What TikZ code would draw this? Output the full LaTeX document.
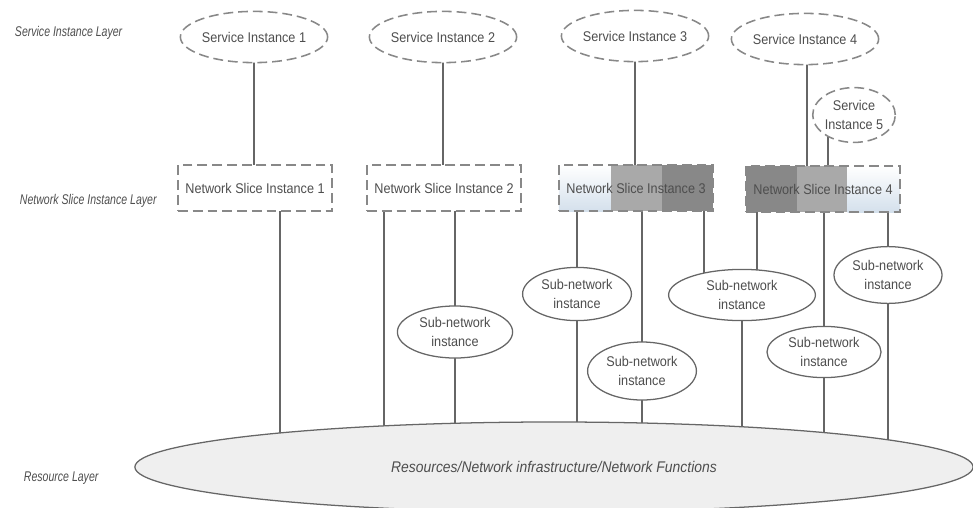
\documentclass[tikz,border=0pt]{standalone}
\usepackage{fontspec}
\setmainfont{Liberation Sans}[FakeStretch=0.9]
\newfontfamily\layerfont{Liberation Sans}[FakeStretch=0.75]
\usetikzlibrary{shapes,calc,backgrounds}
\definecolor{txt}{HTML}{4E4E4E}
\definecolor{ln}{HTML}{666666}
\definecolor{dsh}{HTML}{888888}
\definecolor{lgt}{HTML}{D4E0EC}
\definecolor{midg}{HTML}{A9A9A9}
\definecolor{drkg}{HTML}{888888}
\definecolor{resfill}{HTML}{EFEFEF}
\tikzstyle{si}=[ellipse,draw=dsh,line width=1.1pt,dash pattern=on 7pt off 3.5pt,fill=white,text=txt,inner sep=0pt,minimum width=3.6cm,minimum height=1.28cm,font=\fontsize{10pt}{13pt}\selectfont,align=center]
\tikzstyle{nsi}=[rectangle,draw=dsh,line width=1.1pt,dash pattern=on 7pt off 3.5pt,fill=white,text=txt,inner sep=0pt,minimum width=3.85cm,minimum height=1.15cm,font=\fontsize{10pt}{13pt}\selectfont]
\tikzstyle{sn}=[ellipse,draw=ln,line width=0.9pt,fill=white,text=txt,inner sep=0pt,font=\fontsize{10pt}{13pt}\selectfont,align=center]
\tikzstyle{lyr}=[anchor=west,text=txt,font=\fontsize{10pt}{12pt}\layerfont\itshape]
\tikzstyle{res}=[ellipse,draw=ln,line width=0.9pt,fill=resfill,text=txt,minimum width=20.95cm,minimum height=2.25cm,font=\fontsize{11pt}{12pt}\selectfont\itshape]
\tikzstyle{ln}=[draw=ln,line width=0.8pt]

\begin{document}
\begin{tikzpicture}[x=0.025cm,y=-0.025cm]
\useasboundingbox (0,0) rectangle (973,507);
\node[lyr] (l1) at (10,33) {Service Instance Layer};
\node[lyr] (l2) at (15,201) {Network Slice Instance Layer};
\node[lyr] (l3) at (19,478) {Resource Layer};
\node[si] (si1) at (254,37) {Service Instance 1};
\node[si] (si2) at (443,37) {Service Instance 2};
\node[si] (si3) at (635,36) {Service Instance 3};
\node[si] (si4) at (805,39) {Service Instance 4};
\node[si,minimum width=2.05cm,minimum height=1.37cm] (si5) at (854,115) {Service\\Instance 5};
\node[nsi] (nsi1) at (255,188) {Network Slice Instance 1};
\node[nsi] (nsi2) at (444,188) {Network Slice Instance 2};
\node[nsi,path picture={
 \fill[top color=white,bottom color=lgt] (path picture bounding box.south west) rectangle ($(path picture bounding box.north west)!.34!(path picture bounding box.north east)$);
 \fill[midg] ($(path picture bounding box.south west)!.34!(path picture bounding box.south east)$) rectangle ($(path picture bounding box.north west)!.67!(path picture bounding box.north east)$);
 \fill[drkg] ($(path picture bounding box.south west)!.67!(path picture bounding box.south east)$) rectangle (path picture bounding box.north east);}] (nsi3) at (636,188) {Network Slice Instance 3};
\node[nsi,path picture={
 \fill[drkg] (path picture bounding box.south west) rectangle ($(path picture bounding box.north west)!.33!(path picture bounding box.north east)$);
 \fill[midg] ($(path picture bounding box.south west)!.33!(path picture bounding box.south east)$) rectangle ($(path picture bounding box.north west)!.66!(path picture bounding box.north east)$);
 \fill[top color=white,bottom color=lgt] ($(path picture bounding box.south west)!.66!(path picture bounding box.south east)$) rectangle (path picture bounding box.north east);}] (nsi4) at (823,189) {Network Slice Instance 4};
\node[sn,minimum width=2.88cm,minimum height=1.3cm] (sn1) at (455,332) {Sub-network\\instance};
\node[sn,minimum width=2.72cm,minimum height=1.33cm] (sn2) at (577,294) {Sub-network\\instance};
\node[sn,minimum width=2.72cm,minimum height=1.45cm] (sn3) at (642,371) {Sub-network\\instance};
\node[sn,minimum width=3.67cm,minimum height=1.28cm] (sn4) at (742,295) {Sub-network\\instance};
\node[sn,minimum width=2.85cm,minimum height=1.28cm] (sn5) at (824,352) {Sub-network\\instance};
\node[sn,minimum width=2.7cm,minimum height=1.42cm] (sn6) at (888,275) {Sub-network\\instance};
\node[res] (res) at (554,467) {Resources/Network infrastructure/Network Functions};
\begin{pgfonlayer}{background}
\draw[ln] (si1.center) -- (si1.center |- nsi1.center);
\draw[ln] (si2.center) -- (si2.center |- nsi2.center);
\draw[ln] (si3.center) -- (si3.center |- nsi3.center);
\draw[ln] ($(si4.center)+(2,0)$) |- (nsi4.center);
\draw[ln] (si5.center) -| ($(nsi4.center)+(5,0)$);
\draw[ln] ($(nsi1.center)+(25,0)$) |- (res.center);
\draw[ln] ($(nsi2.center)+(-60,0)$) |- (res.center);
\draw[ln] (nsi2.center -| sn1.center) -- (sn1.center);
\draw[ln] (nsi3.center -| sn2.center) -- (sn2.center);
\draw[ln] (nsi3.center -| sn3.center) -- (sn3.center);
\draw[ln] ($(nsi3.center)+(68,0)$) |- (sn4.center);
\draw[ln] ($(nsi4.center)+(-66,0)$) |- (sn4.center);
\draw[ln] (nsi4.center -| sn5.center) -- (sn5.center);
\draw[ln] (nsi4.center -| sn6.center) -- (sn6.center);
\draw[ln] (sn1.center) |- (res.center);
\draw[ln] (sn2.center) |- (res.center);
\draw[ln] (sn3.center) |- (res.center);
\draw[ln] (sn4.center) |- (res.center);
\draw[ln] (sn5.center) |- (res.center);
\draw[ln] (sn6.center) |- (res.center);
\end{pgfonlayer}
\end{tikzpicture}
\end{document}
